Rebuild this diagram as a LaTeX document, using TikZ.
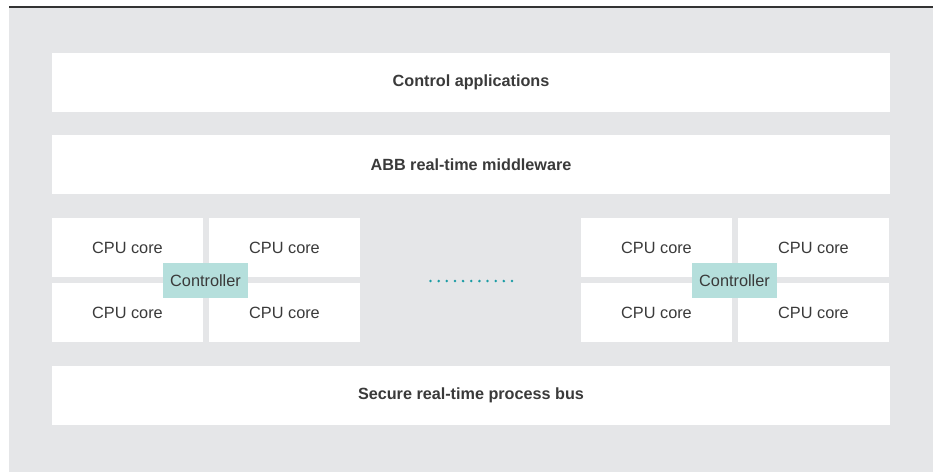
\documentclass[tikz,border=0pt]{standalone}
\usepackage{fontspec}
\setmainfont{Liberation Sans}
\definecolor{panelgray}{HTML}{E5E6E8}
\definecolor{ruledark}{HTML}{333333}
\definecolor{textdark}{HTML}{3A3A3A}
\definecolor{ctrlteal}{HTML}{B5DFDC}
\definecolor{dotteal}{HTML}{1A9CA4}
\tikzset{
  layer/.style={fill=white, draw=none, inner sep=0pt, minimum width=838pt,
    minimum height=59pt, text=textdark,
    font=\fontsize{16.2}{19}\selectfont\bfseries},
  corebox/.style={fill=white, draw=none, inner sep=0pt, minimum width=151pt,
    minimum height=59pt, text=textdark, font=\fontsize{16.3}{19}\selectfont},
  ctrlbox/.style={fill=ctrlteal, draw=none, inner sep=0pt, minimum width=85pt,
    minimum height=35pt, text=textdark, font=\fontsize{16.3}{19}\selectfont},
  dot/.style={circle, fill=dotteal, draw=none, inner sep=0pt, minimum size=2.8pt}
}
\begin{document}
\begin{tikzpicture}[x=1pt,y=-1pt]
  \useasboundingbox (0,0) rectangle (937,472);
  % background panel and top rule
  \fill[panelgray] (9,8) rectangle (933,472);
  \draw[ruledark, line width=1.8pt] (9,7.3) -- (933,7.3);

  % software layers
  \node[layer] (apps) at (471,82.5) {Control applications};
  \node[layer] (mw) at (471,164.5) {ABB real-time middleware};
  \node[layer] (bus) at (471,395.5) {Secure real-time process bus};

  % left multicore processor
  \node[corebox] (l11) at (127.5,247.5) {CPU core};
  \node[corebox] (l12) at (284.5,247.5) {CPU core};
  \node[corebox] (l21) at (127.5,312.5) {CPU core};
  \node[corebox] (l22) at (284.5,312.5) {CPU core};
  \node[ctrlbox] (lctrl) at (205.5,280.5) {Controller};

  % right multicore processor
  \node[corebox] (r11) at (656.5,247.5) {CPU core};
  \node[corebox] (r12) at (813.5,247.5) {CPU core};
  \node[corebox] (r21) at (656.5,312.5) {CPU core};
  \node[corebox] (r22) at (813.5,312.5) {CPU core};
  \node[ctrlbox] (rctrl) at (734.5,280.5) {Controller};

  % ellipsis between processors
  \foreach \i in {0,...,10}
    \node[dot] (d\i) at (430.5+8.15*\i,281) {};
\end{tikzpicture}
\end{document}
